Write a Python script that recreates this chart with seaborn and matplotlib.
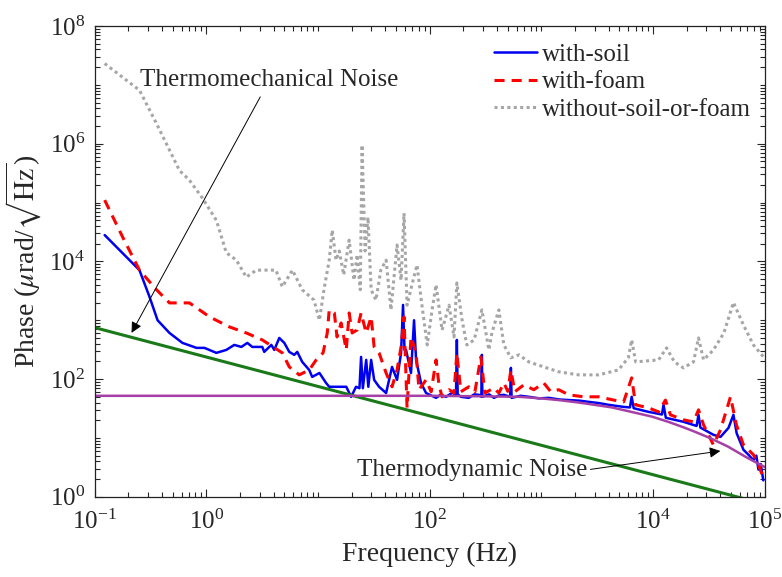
import numpy as np
import pandas as pd
import matplotlib
matplotlib.use("Agg")
import matplotlib.pyplot as plt
from matplotlib.ticker import FixedLocator, LogLocator, NullFormatter
import seaborn as sns

# 读图得到的数据 (频率 Hz, 相位噪声 µrad/√Hz)
soil_f = [0.123, 0.252, 0.31, 0.366, 0.468, 0.611, 0.817, 0.962, 1.23, 1.51,
          1.78, 2.06, 2.33, 2.58, 3.17, 3.3, 3.82, 4.06, 4.5, 4.99,
          5.53, 6.13, 6.52, 7.22, 8.34, 8.87, 10.3, 11.8, 12.6, 14.5,
          17.9, 19.8, 21.9, 23.5, 24.3, 25.2, 27.0, 28.2, 29.9, 31.8,
          35.2, 40.7, 46.0, 51.0, 55.4, 57.7, 59.5, 61.4, 68.0, 72.4,
          75.5, 83.6, 92.7, 114, 125, 140, 158, 172, 175, 178,
          190, 224, 250, 276, 290, 293, 296, 340, 376, 420,
          461, 525, 533, 541, 650, 771, 950, 1164, 1450, 1757,
          2200, 2654, 3300, 4003, 5450, 6200, 6428, 6700, 9120, 1.2e4,
          1.24e4, 1.3e4, 1.87e4, 2.45e4, 2.55e4, 2.65e4, 3.47e4, 4.01e4, 4.73e4, 5.24e4,
          5.6e4, 6.44e4, 7.13e4, 7.9e4, 8.4e4, 8.77e4, 9.2e4, 9.7e4]
soil_v = [2.8e4, 7.1e3, 2.5e3, 1.0e3, 608, 412, 339, 339, 279, 313,
          381, 352, 412, 352, 352, 290, 381, 313, 500, 412,
          290, 258, 290, 196, 143, 109, 127, 86, 74, 74,
          74, 50, 74, 70, 238, 70, 212, 74, 212, 97,
          74, 58, 161, 97, 279, 1820, 313, 313, 127, 1000,
          212, 86, 58, 48, 54, 50, 58, 55, 463, 55,
          50, 48, 55, 54, 50, 258, 50, 55, 48, 53,
          54, 50, 155, 48, 52, 50, 47, 48, 45, 44,
          43, 41, 39, 36.5, 33.7, 33, 50, 32, 27.7, 25,
          36.5, 22, 18.8, 16, 24.7, 15, 11.3, 10.4, 14.8, 24.7,
          12, 6.3, 5.2, 4.2, 5.0, 2.9, 3.6, 1.9]

foam_f = [0.123, 0.178, 0.252, 0.358, 0.468, 0.706, 1.07, 1.61, 2.28, 3.17,
          4.79, 5.53, 6.79, 8.34, 9.64, 11.1, 12.1, 12.6, 14.0, 14.8,
          16.1, 17.9, 19.0, 20.2, 22.4, 24.3, 27.0, 29.9, 31.8, 35.2,
          40.7, 46.0, 51.0, 55.4, 58.9, 62.7, 68.0, 75.5, 80.2, 92.7,
          103, 114, 121, 129, 149, 165, 175, 190, 224, 254,
          287, 312, 376, 416, 461, 500, 533, 578, 697, 855,
          1050, 1213, 1430, 1757, 2393, 3260, 4440, 5450, 6428, 6980,
          9120, 1.12e4, 1.29e4, 1.43e4, 1.87e4, 2.3e4, 2.55e4, 2.83e4, 3.47e4, 4.01e4,
          4.93e4, 5.57e4, 6.44e4, 7.9e4, 8.77e4, 9.7e4]
foam_v = [1.1e5, 2.6e4, 7.1e3, 3.3e3, 1.97e3, 1.97e3, 1.14e3, 770, 608, 463,
          279, 161, 118, 143, 212, 279, 608, 1500, 1330, 520,
          900, 313, 1330, 608, 684, 1330, 608, 1140, 352, 279,
          127, 74, 143, 352, 1140, 32.4, 520, 279, 66, 97,
          61, 212, 80, 50, 66, 58, 279, 61, 74, 61,
          238, 58, 71, 58, 86, 62, 143, 61, 80, 66,
          86, 61, 66, 54, 50, 50, 44, 41, 105, 36.5,
          32.4, 27.7, 44, 24.7, 20.3, 18.8, 30, 16.7, 7.6, 13.7,
          50, 16.7, 7.6, 5.2, 3.5, 2.1]

bare_f = [0.123, 0.252, 0.358, 0.575, 0.706, 0.92, 1.23, 1.51, 1.86, 2.28,
          2.8, 4.2, 4.79, 5.9, 7.22, 9.2, 10.3, 11.3, 12.6, 13.4,
          14.5, 15.5, 17.0, 19.0, 21.0, 22.4, 23.9, 24.8, 26.4, 28.0,
          29.9, 33.0, 36.5, 40.7, 45.0, 51.0, 55.4, 58.9, 62.7, 70.0,
          77.0, 84.0, 95.0, 105, 114, 129, 149, 165, 175, 195,
          215, 250, 293, 339, 360, 416, 461, 533, 630, 771,
          1050, 1430, 2150, 3260, 4900, 6000, 6428, 6980, 1.12e4, 1.32e4,
          1.55e4, 1.87e4, 2.3e4, 2.55e4, 2.83e4, 3.47e4, 4.3e4, 5.24e4, 6.44e4, 7.9e4,
          9.7e4]
bare_v = [2.3e7, 8.1e6, 2.2e6, 3.5e5, 2.4e5, 1.2e5, 5.0e4, 1.4e4, 1.05e4, 5.4e3,
          7.1e3, 7.1e3, 3.7e3, 7.1e3, 3.3e3, 2.2e3, 1.0e3, 3.3e3, 1.05e4, 3.4e4,
          1.05e4, 1.5e4, 5.9e3, 2.3e4, 4.8e3, 1.3e4, 3.3e3, 9.5e5, 1.5e4, 5.6e4,
          3.3e3, 2.2e3, 7.1e3, 1.05e4, 1.5e3, 1.9e4, 4.8e3, 6.6e4, 1.8e3, 4.3e3,
          8.7e3, 2.2e3, 380, 1.5e3, 4.0e3, 680, 1.8e3, 520, 4.3e3, 1.0e3,
          380, 463, 1.5e3, 313, 608, 1.5e3, 381, 230, 258, 196,
          161, 133, 118, 118, 143, 230, 463, 196, 212, 339,
          196, 155, 196, 500, 212, 313, 608, 2.0e3, 830, 381,
          240]

mech_f = [0.1, 1e5]
mech_v = [750, 0.75]

dyn_f = [0.1, 100, 300, 630, 1000, 1500, 2150, 3000, 4270, 6000,
         9800, 1.4e4, 1.9e4, 2.4e4, 3.3e4, 4.7e4, 6.7e4, 8e4, 1e5]
dyn_v = [52, 52, 51, 50, 47, 43.5, 40, 36.5, 33, 28.5,
         23, 18.5, 15, 12.6, 9.8, 7.1, 4.8, 4.0, 3.2]

sns.set_style("ticks")
plt.rcParams['font.family'] = ['Liberation Serif', 'DejaVu Serif']
plt.rcParams['mathtext.fontset'] = 'stix'
plt.rcParams['xtick.direction'] = 'in'
plt.rcParams['ytick.direction'] = 'in'

fig, ax = plt.subplots(figsize=(7.82, 5.77), dpi=100)
fig.subplots_adjust(left=0.121, right=0.978, bottom=0.139, top=0.955)
ax.set_xscale('log')
ax.set_yscale('log')

series = [
    (bare_f, bare_v, '#a6a6a6', (0, (1, 1.1)), 2.2, 'without-soil-or-foam'),
    (soil_f, soil_v, '#0000f0', '-', 1.8, 'with-soil'),
    (foam_f, foam_v, '#ff0000', (0, (3.3, 2.3)), 2.2, 'with-foam'),
]
handles = {}
for fx, vy, col, ls, lw, lab in series:
    df = pd.DataFrame({'f': fx, 'v': vy})
    sns.lineplot(data=df, x='f', y='v', ax=ax, color=col, linestyle=ls,
                 linewidth=lw, estimator=None, sort=False)
    handles[lab] = ax.lines[-1]

sns.lineplot(x=mech_f, y=mech_v, ax=ax, color='#1a7a1a', linewidth=2.2,
             estimator=None, sort=False)
sns.lineplot(x=dyn_f, y=dyn_v, ax=ax, color='#a640a6', linewidth=1.8,
             estimator=None, sort=False)

ax.set_xlim(0.1, 1e5)
ax.set_ylim(1, 1e8)
ax.xaxis.set_major_locator(FixedLocator([0.1, 1, 100, 1e4, 1e5]))
ax.yaxis.set_major_locator(FixedLocator([1, 1e2, 1e4, 1e6, 1e8]))
for axis in (ax.xaxis, ax.yaxis):
    axis.set_minor_locator(LogLocator(base=10, subs=np.arange(1, 10), numticks=40))
    axis.set_minor_formatter(NullFormatter())
ax.tick_params(which='both', top=True, right=True, labelsize=18, width=0.8)
ax.tick_params(which='major', length=6)
ax.tick_params(which='minor', length=3.5)
ax.tick_params(axis='x', which='major', pad=9)
ax.tick_params(axis='y', which='major', pad=7)
for sp in ax.spines.values():
    sp.set_linewidth(0.9)
    sp.set_color('#222222')

ax.set_xlabel('Frequency (Hz)', fontsize=20, labelpad=6)
ax.set_ylabel(r'Phase ($\mu$rad/$\sqrt{\rm Hz}$)', fontsize=20, labelpad=4)

ax.legend([handles['with-soil'], handles['with-foam'], handles['without-soil-or-foam']],
          ['with-soil', 'with-foam', 'without-soil-or-foam'],
          loc='upper right', bbox_to_anchor=(0.98, 0.963), frameon=False,
          fontsize=18, handlelength=1.75, handletextpad=0.2, labelspacing=0.2,
          borderpad=0, borderaxespad=0)

ax.annotate('Thermomechanical Noise', xy=(0.214, 610), xytext=(3.67, 1.2e7),
            fontsize=18, ha='center', va='center',
            arrowprops=dict(arrowstyle='-|>', color='black', lw=0.7,
                            mutation_scale=16, shrinkA=2, shrinkB=0))
ax.annotate('Thermodynamic Noise', xy=(4.0e4, 6.0), xytext=(239, 2.87),
            fontsize=18, ha='center', va='center',
            arrowprops=dict(arrowstyle='-|>', color='black', lw=0.7,
                            mutation_scale=16, relpos=(1.0, 0.5),
                            shrinkA=0, shrinkB=0))

fig.savefig('out.png', dpi=100)
